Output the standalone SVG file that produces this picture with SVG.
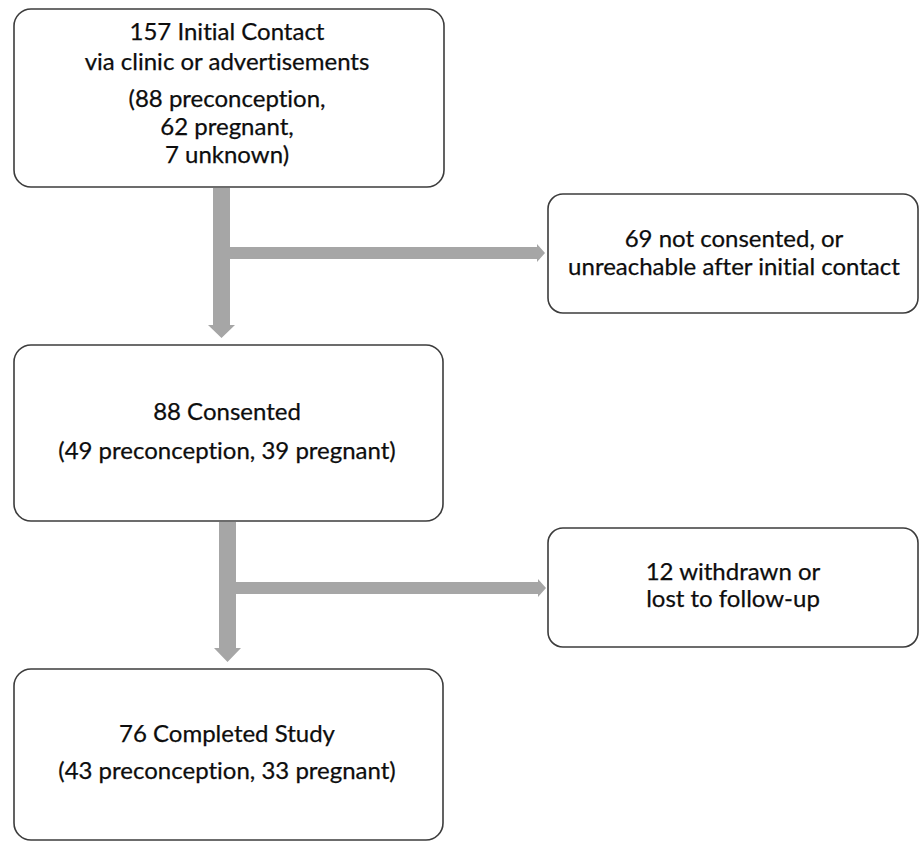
<svg xmlns="http://www.w3.org/2000/svg" width="920" height="842" viewBox="0 0 920 842">
<style>
.box{fill:#ffffff;stroke:#3c3c3c;stroke-width:1.6}
.t{font-family:Lato,"Open Sans","Liberation Sans",sans-serif;font-size:24px;fill:#0d0d0d;text-anchor:middle;font-variant-ligatures:none;font-feature-settings:"liga" 0,"clig" 0;stroke:#0d0d0d;stroke-width:0.25}
.arr{fill:#a6a6a6;stroke:none}
</style>
<rect width="920" height="842" fill="#ffffff"/>
<g id="connectors">
<polygon class="arr" points="213,188 230,188 230,325 235,325 221.5,338 208,325 213,325"/>
<polygon class="arr" points="230,247 537,247 537,244 545,253 537,262 537,259 230,259"/>
<polygon class="arr" points="219,522 236,522 236,648 241,648 227.5,662 214,648 219,648"/>
<polygon class="arr" points="236,582 538,582 538,579 546,588 538,597 538,594 236,594"/>
</g>
<g id="n1">
<rect class="box" x="14" y="9" width="430" height="178" rx="17"/>
<text class="t" x="227" y="40">157 Initial Contact</text>
<text class="t" x="227" y="70">via clinic or advertisements</text>
<text class="t" x="227" y="107">(88 preconception,</text>
<text class="t" x="227" y="135">62 pregnant,</text>
<text class="t" x="227" y="163">7 unknown)</text>
</g>
<g id="n2">
<rect class="box" x="548" y="194" width="370" height="119" rx="15"/>
<text class="t" x="734" y="247">69 not consented, or</text>
<text class="t" x="734" y="275">unreachable after initial contact</text>
</g>
<g id="n3">
<rect class="box" x="14" y="345" width="429" height="176" rx="17"/>
<text class="t" x="227" y="420">88 Consented</text>
<text class="t" x="227" y="459">(49 preconception, 39 pregnant)</text>
</g>
<g id="n4">
<rect class="box" x="548" y="528" width="370" height="119" rx="15"/>
<text class="t" x="733" y="580">12 withdrawn or</text>
<text class="t" x="733" y="607">lost to follow-up</text>
</g>
<g id="n5">
<rect class="box" x="14" y="669" width="429" height="171" rx="17"/>
<text class="t" x="227" y="742">76 Completed Study</text>
<text class="t" x="227" y="779">(43 preconception, 33 pregnant)</text>
</g>
</svg>
